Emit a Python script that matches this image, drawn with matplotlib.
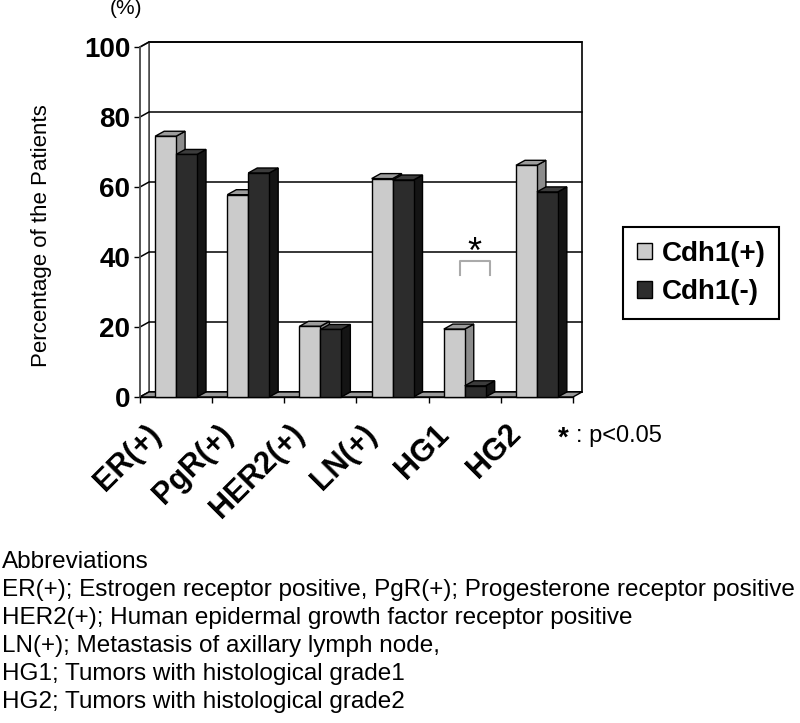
import matplotlib
matplotlib.use('Agg')
import matplotlib.pyplot as plt
from matplotlib.patches import Polygon, Patch
from matplotlib.transforms import offset_copy

plt.rcParams['font.family'] = ['Liberation Sans', 'DejaVu Sans']

# данные
categories = ['ER(+)', 'PgR(+)', 'HER2(+)', 'LN(+)', 'HG1', 'HG2']
cdh1_pos = [74.5, 57.8, 20.2, 62.4, 19.4, 66.2]
cdh1_neg = [69.3, 64.0, 19.3, 62.0, 3.2, 58.6]
series_names = ['Cdh1(+)', 'Cdh1(-)']
y_ticks = [0, 20, 40, 60, 80, 100]
notes = [
    'Abbreviations',
    'ER(+); Estrogen receptor positive, PgR(+); Progesterone receptor positive',
    'HER2(+); Human epidermal growth factor receptor positive',
    'LN(+); Metastasis of axillary lymph node,',
    'HG1; Tumors with histological grade1',
    'HG2; Tumors with histological grade2',
]

light = {'front': '#cbcbcb', 'top': '#9c9c9c', 'side': '#8c8c8c'}
dark = {'front': '#2c2c2c', 'top': '#3c3c3c', 'side': '#141414'}

W, H = 800, 723
fig = plt.figure(figsize=(W / 100, H / 100), dpi=100)
# передняя плоскость осей: x 140..573 px, y 397 (0) .. 47 (100)
ax = fig.add_axes([140 / W, 1 - 397 / H, 433 / W, 350 / H])
ax.set_xlim(-0.5, 5.5)
ax.set_ylim(0, 100)

# глубина 3D в единицах данных (около 9 px вправо, 5 px вверх)
dx = 9 / (433 / 6)
dy = 5 / 3.5
x0, x1 = -0.5, 5.5


def poly(pts, fc, ec='black', lw=1.0, z=1):
    ax.add_patch(Polygon(pts, closed=True, facecolor=fc, edgecolor=ec,
                         linewidth=lw, clip_on=False, zorder=z))


# стенки и пол
poly([(x0 + dx, dy), (x1 + dx, dy), (x1 + dx, 100 + dy), (x0 + dx, 100 + dy)], 'white', lw=1.2)
poly([(x0, 0), (x0 + dx, dy), (x0 + dx, 100 + dy), (x0, 100)], 'white', ec='#555555', lw=1.2)
for v in y_ticks:
    ax.plot([x0, x0 + dx, x1 + dx], [v, v + dy, v + dy], color='black', lw=1.1,
            clip_on=False, zorder=1.5)
poly([(x0, 0), (x1, 0), (x1 + dx, dy), (x0 + dx, dy)], '#9a9a9a', lw=1.0, z=2)

# столбцы
bw = 0.29
for i in range(len(categories)):
    for left, val, col in [(i - bw, cdh1_pos[i], light), (i, cdh1_neg[i], dark)]:
        right = left + bw
        poly([(right, 0), (right + dx, dy), (right + dx, val + dy), (right, val)], col['side'], z=3)
        poly([(left, val), (right, val), (right + dx, val + dy), (left + dx, val + dy)], col['top'], z=3)
        poly([(left, 0), (right, 0), (right, val), (left, val)], col['front'], z=3)

# оси и деления
for s in ['top', 'right']:
    ax.spines[s].set_visible(False)
ax.spines['left'].set_color('#555555')
ax.spines['left'].set_linewidth(1.2)
ax.spines['bottom'].set_linewidth(1.0)
ax.set_yticks(y_ticks)
ax.set_yticklabels([str(v) for v in y_ticks], fontsize=20, fontweight='bold')
ax.set_xticks([x0 + k for k in range(7)])
ax.set_xticklabels([])
ax.tick_params(axis='both', direction='out', length=4, width=1.0, pad=3)

lab_tr = offset_copy(ax.transData, fig, x=-31, y=-22, units='dots')
for i, name in enumerate(categories):
    ax.text(i, 0, name, transform=lab_tr, rotation=45, rotation_mode='anchor',
            ha='right', va='top', fontsize=22, fontweight='bold')

# значимость для HG1
hg = categories.index('HG1')
ax.plot([hg - 0.07, hg - 0.07, hg + 0.35, hg + 0.35], [35, 39, 39, 35],
        color='#aaaaaa', lw=1.5, zorder=4)
ax.text(hg + 0.13, 41, '*', ha='center', va='center', fontsize=26, zorder=5)

fig.text(42 / W, 1 - 236 / H, 'Percentage of the Patients', rotation=90,
         ha='center', va='center', fontsize=16)
fig.text(126 / W, 1 - 9 / H, '(%)', ha='center', va='center', fontsize=15)
fig.text(558 / W, 1 - 439 / H, '*', ha='left', va='center', fontsize=20, fontweight='bold')
fig.text(576 / W, 1 - 436 / H, ': p<0.05', ha='left', va='center', fontsize=17)

handles = [Patch(facecolor=light['front'], edgecolor='black', label=series_names[0]),
           Patch(facecolor=dark['front'], edgecolor='black', label=series_names[1])]
leg = fig.legend(handles=handles, loc='center', bbox_to_anchor=(701 / W, 1 - 273 / H),
                 prop={'size': 20, 'weight': 'bold'}, fancybox=False,
                 handlelength=0.55, handleheight=0.55, handletextpad=0.35,
                 borderpad=0.5, labelspacing=0.45, borderaxespad=0, framealpha=1)
leg.get_frame().set_edgecolor('black')
leg.get_frame().set_linewidth(1.5)

for k, line in enumerate(notes):
    fig.text(2 / W, 1 - (562 + 28 * k) / H, line, ha='left', va='center', fontsize=17.5)

plt.savefig('out.png', dpi=100)
